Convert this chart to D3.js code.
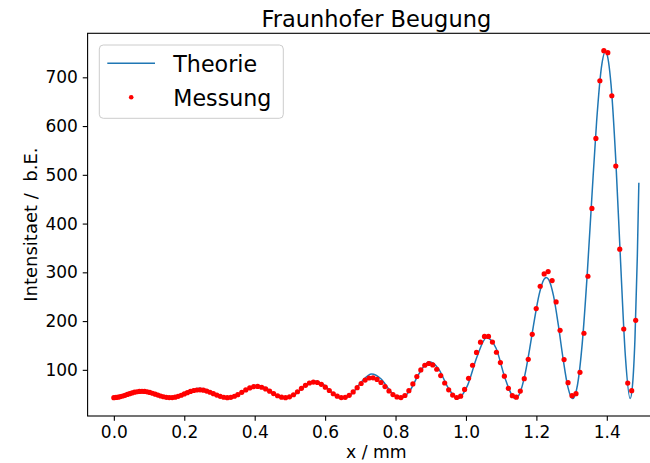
<!DOCTYPE html>
<html><head><meta charset="utf-8">
<script src="https://cdn.jsdelivr.net/npm/d3@7"></script>
<style>
html,body{margin:0;padding:0;background:#fff;}
svg{display:block;font-family:"DejaVu Sans",sans-serif;}
</style></head><body>
<svg id="chart" width="650" height="463"></svg>
<script>
// ---- data ----
const theoryX = [0.0000,0.0247,0.0519,0.0791,0.1063,0.1335,0.1607,0.1879,0.2151,0.2423,0.2695,0.2967,
  0.3239,0.3511,0.3783,0.4055,0.4327,0.4599,0.4871,0.5143,0.5415,0.5687,0.5959,0.6231,
  0.6503,0.6775,0.7047,0.7319,0.7591,0.7863,0.8135,0.8407,0.8679,0.8951,0.9223,0.9495,
  0.9767,1.0039,1.0311,1.0583,1.0855,1.1127,1.1399,1.1535,1.1671,1.1807,1.1943,1.2079,
  1.2215,1.2282,1.2351,1.2487,1.2623,1.2759,1.2895,1.3031,1.3167,1.3303,1.3439,1.3575,
  1.3711,1.3847,1.3961,1.3983,1.4119,1.4255,1.4391,1.4527,1.4663,1.4731,1.4799,1.4867,1.4910];
const theoryY = [41.0,45.0,53.3,57.9,54.2,45.5,41.0,45.9,56.3,62.2,57.5,46.7,
  41.0,47.2,60.5,68.2,62.3,48.4,41.0,49.2,66.8,77.2,69.6,51.0,
  41.0,52.2,76.7,91.5,81.3,55.3,41.0,57.4,93.6,116.5,102.0,63.0,
  41.0,67.0,126.3,165.8,144.2,79.1,41.0,53.0,88.6,142.1,202.2,254.7,
  285.6,289.6,285.2,251.6,192.0,122.4,64.6,41.0,68.9,154.7,290.6,453.7,
  609.9,720.4,753.0,751.7,685.9,530.2,321.8,128.3,41.0,69.4,162.9,333.3,483.6];

const measX = [0.0000,0.0062,0.0124,0.0187,0.0251,0.0316,0.0382,0.0449,0.0517,0.0586,
  0.0656,0.0727,0.0799,0.0872,0.0946,0.1021,0.1097,0.1174,0.1252,0.1331,
  0.1411,0.1492,0.1574,0.1657,0.1741,0.1826,0.1912,0.1999,0.2087,0.2176,
  0.2266,0.2357,0.2449,0.2542,0.2636,0.2731,0.2827,0.2924,0.3022,0.3121,
  0.3221,0.3322,0.3424,
  0.3520,0.3633,0.3746,0.3859,0.3972,0.4085,0.4198,0.4311,0.4424,0.4537,
  0.4650,0.4763,0.4876,0.4989,0.5102,0.5215,0.5328,0.5441,0.5554,0.5667,
  0.5780,0.5893,0.6006,0.6119,0.6232,0.6345,0.6458,0.6571,0.6684,0.6797,
  0.6910,0.7023,0.7136,0.7249,0.7362,0.7475,0.7588,0.7701,0.7814,0.7927,
  0.8040,0.8153,0.8266,0.8379,0.8492,0.8605,0.8718,0.8831,0.8944,0.9057,
  0.9170,0.9283,0.9396,0.9509,0.9622,0.9735,0.9848,0.9961,1.0074,1.0187,
  1.0300,1.0413,1.0526,1.0639,1.0752,1.0865,1.0978,1.1091,1.1204,1.1317,
  1.1430,1.1543,1.1656,1.1769,1.1882,1.1995,1.2108,1.2221,1.2334,1.2447,
  1.2560,1.2673,1.2786,1.2899,1.3012,1.3125,1.3238,1.3351,1.3464,1.3577,
  1.3690,1.3803,1.3916,1.4029,1.4142,1.4255,1.4368,1.4481,1.4594,1.4707,
  1.4820];
const measY = [43.0,43.4,44.0,45.1,46.3,47.8,49.5,51.1,52.7,54.1,55.1,55.8,56.0,55.7,54.9,53.6,52.0,50.1,48.2,46.3,44.8,43.6,43.1,
  43.1,44.0,45.7,47.9,50.5,53.2,55.7,57.6,58.7,59.0,58.2,56.5,54.0,51.1,48.2,45.6,43.8,43.0,
  43.6,45.8,49.1,53.9,58.8,62.9,65.4,65.9,64.3,60.9,56.2,51.3,46.9,44.0,
  43.0,44.6,48.9,55.1,62.0,68.3,73.0,75.0,74.0,70.2,64.4,57.6,51.0,45.9,43.2,
  43.7,47.8,54.8,63.4,72.0,79.1,83.3,83.7,80.4,74.0,65.6,56.7,49.2,44.4,
  43.1,47.4,57.3,71.2,86.3,99.8,109.4,113.0,110.1,101.2,88.2,73.0,59.0,48.3,43.3,
  46.0,59.9,82.5,109.4,135.8,156.8,168.5,168.5,157.0,136.1,
  115.0,87.0,62.0,47.0,44.0,
  56.5,81.9,121.6,172.9,225.6,271.5,296.7,301.6,283.1,239.2,181.0,121.0,73.7,47.0,
  51.1,94.9,175.0,292.0,431.0,574.7,693.0,754.6,750.5,662.2,517.9,347.4,183.8,72.9,57.3,201.6];

const xTicks = [0.0,0.2,0.4,0.6,0.8,1.0,1.2,1.4];
const yTicks = [100,200,300,400,500,600,700];
const seriesNames = ["Theorie","Messung"];
const titleText = "Fraunhofer Beugung";
const xLabelText = "x / mm";
const yLabelText = "Intensitaet /  b.E.";

// ---- layout ----
const pL = 87.6, pR = 665.1, pT = 33.3, pB = 416;
const theory = theoryX.map((d,i)=>({x:d,y:theoryY[i]}));
const meas = measX.slice(0, Math.min(measX.length, measY.length)).map((d,i)=>({x:d,y:measY[i]}));
const allX = theory.map(d=>d.x).concat(meas.map(d=>d.x));
const allY = theory.map(d=>d.y).concat(meas.map(d=>d.y));
const [xa,xb] = d3.extent(allX), [ya,yb] = d3.extent(allY);
const mx = (xb-xa)*0.05, my = (yb-ya)*0.05;
const x = d3.scaleLinear().domain([xa-mx, xb+mx]).range([pL,pR]);
const y = d3.scaleLinear().domain([ya-my, yb+my]).range([pB,pT]);

const svg = d3.select("#chart");
svg.append("rect").attr("width",650).attr("height",463).attr("fill","#fff");

svg.append("defs").append("clipPath").attr("id","clip")
  .append("rect").attr("x",pL).attr("y",pT).attr("width",pR-pL).attr("height",pB-pT);

const plot = svg.append("g").attr("clip-path","url(#clip)");
plot.append("path").datum(theory)
  .attr("fill","none").attr("stroke","#1f77b4").attr("stroke-width",1.5)
  .attr("d", d3.line().x(d=>x(d.x)).y(d=>y(d.y)).curve(d3.curveMonotoneX));
plot.selectAll("circle").data(meas).enter().append("circle")
  .attr("cx",d=>x(d.x)).attr("cy",d=>y(d.y)).attr("r",2.6).attr("fill","#ff0000");

// axes
const tickLen = 4.86;
const xAxis = d3.axisBottom(x).tickValues(xTicks).tickFormat(d3.format(".1f"))
  .tickSize(tickLen).tickPadding(4.8).tickSizeOuter(0);
const gx = svg.append("g").attr("transform",`translate(0,${pB})`).call(xAxis);
const yAxis = d3.axisLeft(y).tickValues(yTicks).tickFormat(d3.format("d"))
  .tickSize(tickLen).tickPadding(4.9).tickSizeOuter(0);
const gy = svg.append("g").attr("transform",`translate(${pL},0)`).call(yAxis);
[gx,gy].forEach(g=>{
  g.select(".domain").remove();
  g.selectAll(".tick line").attr("stroke","#000").attr("stroke-width",1.1);
  g.selectAll(".tick text").attr("fill","#000").style("font-size","17px")
    .style("font-family","'DejaVu Sans',sans-serif");
});

// spines
const sp = svg.append("g").attr("stroke","#000").attr("stroke-width",1.1).attr("fill","none");
sp.append("rect").attr("x",pL).attr("y",pT).attr("width",pR-pL).attr("height",pB-pT);

// title & labels
svg.append("text").attr("x",(pL+pR)/2).attr("y",26.7).attr("text-anchor","middle")
  .style("font-size","22.5px").attr("fill","#000").text(titleText);
svg.append("text").attr("x",(pL+pR)/2).attr("y",457.5).attr("text-anchor","middle")
  .style("font-size","17.3px").attr("fill","#000").text(xLabelText);
svg.append("text").attr("transform",`translate(37,${(pT+pB)/2}) rotate(-90)`)
  .attr("text-anchor","middle").style("font-size","18px").style("white-space","pre")
  .attr("fill","#000").text(yLabelText);

// legend
const lg = svg.append("g");
lg.append("rect").attr("x",99.3).attr("y",45).attr("width",184).attr("height",73.3)
  .attr("rx",4).attr("fill","#fff").attr("fill-opacity",0.8)
  .attr("stroke","#cccccc").attr("stroke-width",1);
lg.append("line").attr("x1",107.3).attr("x2",155).attr("y1",63.3).attr("y2",63.3)
  .attr("stroke","#1f77b4").attr("stroke-width",1.5);
lg.append("circle").attr("cx",131.2).attr("cy",97.3).attr("r",2.3).attr("fill","#ff0000");
lg.append("text").attr("x",173.3).attr("y",71.5).style("font-size","22.2px").attr("fill","#000").text(seriesNames[0]);
lg.append("text").attr("x",173.3).attr("y",106).style("font-size","22.2px").attr("fill","#000").text(seriesNames[1]);
</script>
</body></html>
